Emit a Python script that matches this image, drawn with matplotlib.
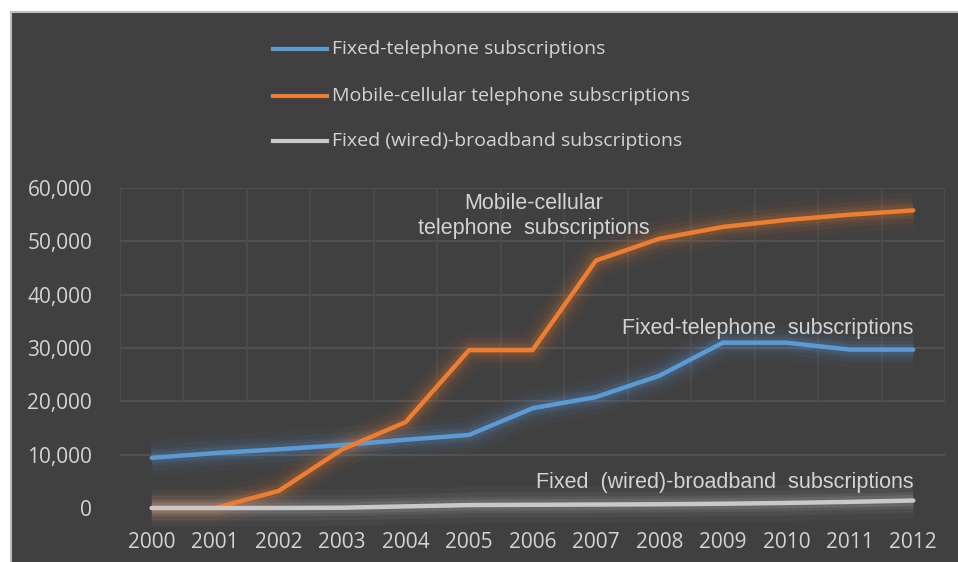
import matplotlib
matplotlib.use("Agg")
import matplotlib.pyplot as plt
from matplotlib.patches import Rectangle
from matplotlib.lines import Line2D

# Subscriptions (thousands) by year
years = ["2000", "2001", "2002", "2003", "2004", "2005", "2006",
         "2007", "2008", "2009", "2010", "2011", "2012"]
fixed_tel = [9400, 10300, 11000, 11800, 12800, 13700, 18700,
             20800, 24800, 31000, 31000, 29700, 29700]
mobile = [0, 0, 3200, 11000, 16100, 29600, 29600,
          46400, 50500, 52700, 54000, 55000, 55800]
broadband = [0, 0, 0, 50, 300, 550, 600, 650, 700, 800, 950, 1150, 1400]

series_names = ["Fixed-telephone subscriptions",
                "Mobile-cellular telephone subscriptions",
                "Fixed (wired)-broadband subscriptions"]
series_values = [fixed_tel, mobile, broadband]
series_colors = ["#5b9bd5", "#ed7d31", "#c9c9c9"]

BG = "#404040"
TXT = "#d4d4d4"
W, H = 958, 562

fig = plt.figure(figsize=(W / 100, H / 100), dpi=100)
fig.patch.set_facecolor("white")

# dark panel with a light frame on the top and left
fig.add_artist(Rectangle((11 / W, 0), 1, 1 - 13 / H, transform=fig.transFigure,
                         facecolor=BG, edgecolor="none", zorder=0))
fig.add_artist(Line2D([11 / W, 11 / W], [0, 1 - 12 / H], transform=fig.transFigure,
                      color="#bdbdbd", lw=1.5, zorder=1))
fig.add_artist(Line2D([11 / W, 1], [1 - 12 / H, 1 - 12 / H], transform=fig.transFigure,
                      color="#bdbdbd", lw=1.5, zorder=1))

ax_l, ax_r, ax_b, ax_t = 120, 945, 508, 188
ax = fig.add_axes([ax_l / W, (H - ax_b) / H, (ax_r - ax_l) / W, (ax_b - ax_t) / H])
ax.set_facecolor("none")
ax.set_xlim(-0.5, len(years) - 0.5)
ax.set_ylim(0, 60000)

x = list(range(len(years)))

# grid
for yv in range(10000, 60001, 10000):
    ax.axhline(yv, color="#555555", lw=1.2, zorder=1)
for xv in [i - 0.5 for i in range(len(years) + 1)]:
    ax.axvline(xv, ymin=1 / 3, ymax=1, color="#4d4d4d", lw=1.2, zorder=1)

# glowing lines
for vals, col in zip(series_values, series_colors):
    for lw, a in [(26, 0.045), (18, 0.065), (12, 0.09), (8, 0.13)]:
        ax.plot(x, vals, color=col, lw=lw, alpha=a, solid_capstyle="butt",
                solid_joinstyle="round", clip_on=False, zorder=2)
for vals, col in zip(series_values, series_colors):
    ax.plot(x, vals, color=col, lw=3.2, solid_joinstyle="round",
            solid_capstyle="round", clip_on=False, zorder=3)

for s in ax.spines.values():
    s.set_visible(False)
ax.set_xticks(x)
ax.set_xticklabels(years)
ax.set_yticks(range(0, 60001, 10000))
ax.set_yticklabels([f"{v:,}" for v in range(0, 60001, 10000)])
ax.tick_params(length=0, colors=TXT)
ax.tick_params(axis="x", pad=17)
ax.tick_params(axis="y", pad=20)
for lab in ax.get_xticklabels() + ax.get_yticklabels():
    lab.set_fontfamily("Open Sans")
    lab.set_fontsize(15)
    lab.set_color(TXT)

# in-plot labels
ann_font = dict(family="Liberation Sans", fontsize=15.5, color=TXT)
ax.text(6.02, 54750, "Mobile-cellular\ntelephone  subscriptions", ha="center",
        va="center", linespacing=1.2, zorder=4, **ann_font)
ax.text(12.0, 33700, "Fixed-telephone  subscriptions", ha="right", va="center",
        zorder=4, **ann_font)
ax.text(12.0, 4700, "Fixed  (wired)-broadband  subscriptions", ha="right",
        va="center", zorder=4, **ann_font)

# legend, stacked vertically above the plot
leg_y = [49, 96, 141]
for name, col, yy in zip(series_names, series_colors, leg_y):
    fy = 1 - yy / H
    fig.add_artist(Line2D([273 / W, 327 / W], [fy, fy], transform=fig.transFigure,
                          color=col, lw=3))
    fig.text(332 / W, fy, name, ha="left", va="center", family="Open Sans",
             fontsize=14, color=TXT)

fig.savefig("out.png", dpi=100, facecolor=fig.get_facecolor())
